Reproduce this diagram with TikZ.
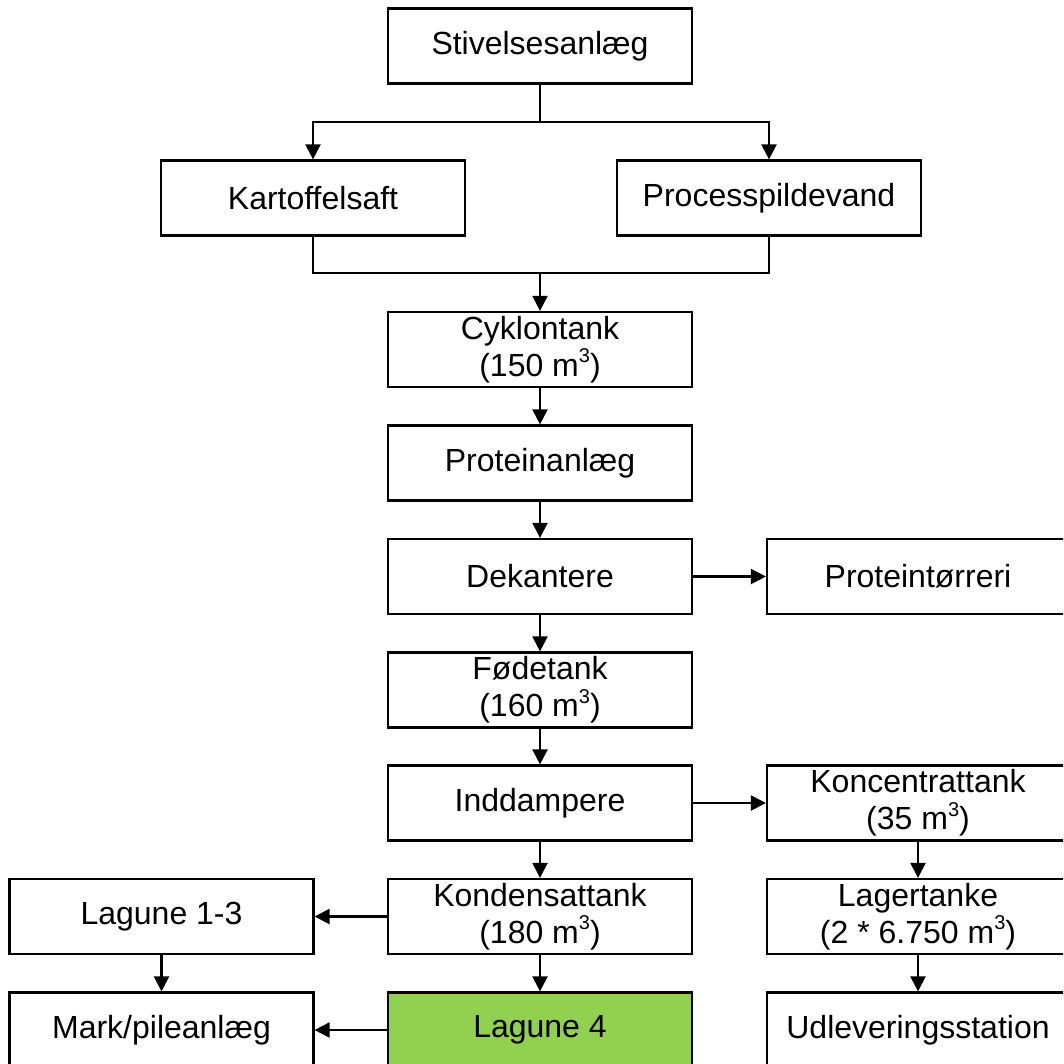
\documentclass[tikz,border=0pt]{standalone}
\usepackage{fontspec}
\setmainfont{Liberation Sans}
\usetikzlibrary{arrows.meta}
\definecolor{lgreen}{HTML}{92D050}
\newcommand\cubic{\raisebox{0.42em}{\fontsize{20}{20}\selectfont 3}}
\begin{document}
\begin{tikzpicture}[x=1pt,y=-1pt,
  box/.style={draw, line width=2.2pt, minimum width=304pt, minimum height=75pt,
    inner sep=0pt, align=center, font=\fontsize{32}{37}\selectfont, fill=white},
  rbox/.style={box, minimum width=302pt},
  conn/.style={line width=2.2pt},
  arr/.style={conn, -{Triangle[length=15pt,width=15pt]}}]
\useasboundingbox (0,0) rectangle (1063,1064);
\clip (0,0) rectangle (1063,1064);
\node[box] (s) at (540,46) {Stivelsesanlæg};
\node[box] (k) at (313,198) {Kartoffelsaft};
\node[box] (p) at (769,198) {Processpildevand};
\node[box] (c) at (540,349.5) {Cyklontank\\(150 m\cubic)};
\node[box] (pa) at (540,463) {Proteinanlæg};
\node[box] (d) at (540,576.5) {Dekantere};
\node[rbox] (pt) at (918,576.5) {Proteintørreri};
\node[box] (f) at (540,690) {Fødetank\\(160 m\cubic)};
\node[box] (i) at (540,803) {Inddampere};
\node[rbox] (kt) at (918,803) {Koncentrattank\\(35 m\cubic)};
\node[box] (kd) at (540,916.5) {Kondensattank\\(180 m\cubic)};
\node[box] (l13) at (161.5,916.5) {Lagune 1-3};
\node[rbox] (lt) at (918,916.5) {Lagertanke\\(2 * 6.750 m\cubic)};
\node[box, fill=lgreen] (l4) at (540,1030) {Lagune 4};
\node[box] (m) at (161.5,1030) {Mark/pileanlæg};
\node[rbox] (u) at (918,1030) {Udleveringsstation};
\coordinate (j1) at (540,122);
\coordinate (j2) at (540,273);
\draw[conn] (s.south) -- (j1);
\draw[arr] (j1) -| (k.north);
\draw[arr] (j1) -| (p.north);
\draw[conn] (k.south) |- (j2);
\draw[conn] (p.south) |- (j2);
\draw[arr] (j2) -- (c.north);
\draw[arr] (c) -- (pa);
\draw[arr] (pa) -- (d);
\draw[arr] (d) -- (f);
\draw[arr] (f) -- (i);
\draw[arr] (i) -- (kd);
\draw[arr] (kd) -- (l4);
\draw[arr] (d) -- (pt);
\draw[arr] (i) -- (kt);
\draw[arr] (kt) -- (lt);
\draw[arr] (lt) -- (u);
\draw[arr] (kd) -- (l13);
\draw[arr] (l13) -- (m);
\draw[arr] (l4) -- (m);
\end{tikzpicture}
\end{document}
